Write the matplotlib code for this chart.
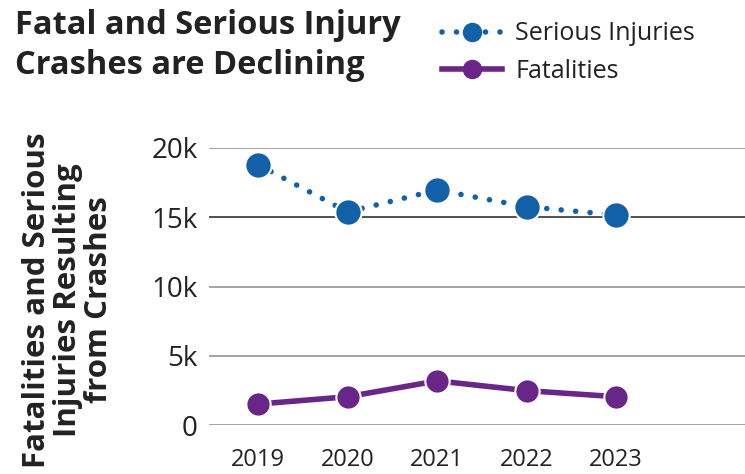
import matplotlib
matplotlib.use("Agg")
import matplotlib.pyplot as plt
from matplotlib.lines import Line2D

years = ["2019", "2020", "2021", "2022", "2023"]
serious_injuries = [18770, 15370, 16950, 15750, 15150]
fatalities = [1530, 2060, 3200, 2500, 2060]
y_ticks = [0, 5000, 10000, 15000, 20000]
y_tick_labels = ["0", "5k", "10k", "15k", "20k"]

BLUE = "#1160a8"
PURPLE = "#6a2588"
TEXT = "#222222"

plt.rcParams["font.family"] = ["Open Sans", "DejaVu Sans"]

fig = plt.figure(figsize=(7.45, 4.74), dpi=100)
ax = fig.add_axes([0.2805, 0.1027, 0.7195, 0.5857])

x = list(range(len(years)))
for t in y_ticks:
    ax.axhline(t, color="#222222" if t == 15000 else "#8a8a8a", lw=1.1, zorder=1)

ax.plot(x, serious_injuries, color=BLUE, ls=(0, (0.01, 2.6)), lw=4, dash_capstyle="round",
        marker="o", ms=19, mfc=BLUE, mec="white", mew=1.5, zorder=3, clip_on=False)
ax.plot(x, fatalities, color=PURPLE, lw=4, solid_capstyle="butt",
        marker="o", ms=17.5, mfc=PURPLE, mec="white", mew=1.5, zorder=3, clip_on=False)

ax.set_xlim(-0.55, 5.44)
ax.set_ylim(0, 20000)
ax.set_xticks(x)
ax.set_xticklabels(years, fontsize=17, color=TEXT)
ax.set_yticks(y_ticks)
ax.set_yticklabels(y_tick_labels, fontsize=20, color=TEXT)
ax.tick_params(length=0, axis="y", pad=8)
ax.tick_params(length=0, axis="x", pad=16)
for s in ax.spines.values():
    s.set_visible(False)

fig.text(15 / 745, 1 - 9 / 474, "Fatal and Serious Injury\nCrashes are Declining",
         fontsize=23.5, fontweight="bold", color=TEXT, ha="left", va="top", linespacing=1.3)

fig.text(68 / 745, 1 - 300 / 474, "Fatalities and Serious\nInjuries Resulting\nfrom Crashes",
         fontsize=22.5, fontweight="bold", color=TEXT, rotation=90, ha="center", va="center",
         multialignment="center", linespacing=1.05)

handles = [
    Line2D([], [], color=BLUE, ls=(0, (0.01, 2.6)), lw=4, dash_capstyle="round",
           marker="o", ms=13, mfc=BLUE, mec=BLUE),
    Line2D([], [], color=PURPLE, lw=4, marker="o", ms=13, mfc=PURPLE, mec=PURPLE),
]
fig.legend(handles, ["Serious Injuries", "Fatalities"], loc="upper left",
           bbox_to_anchor=(419 / 745, 1 + 1 / 474), frameon=False, fontsize=18,
           handlelength=2.4, handletextpad=0.55, labelspacing=0.5, labelcolor=TEXT)

fig.savefig("out.png", dpi=100)
